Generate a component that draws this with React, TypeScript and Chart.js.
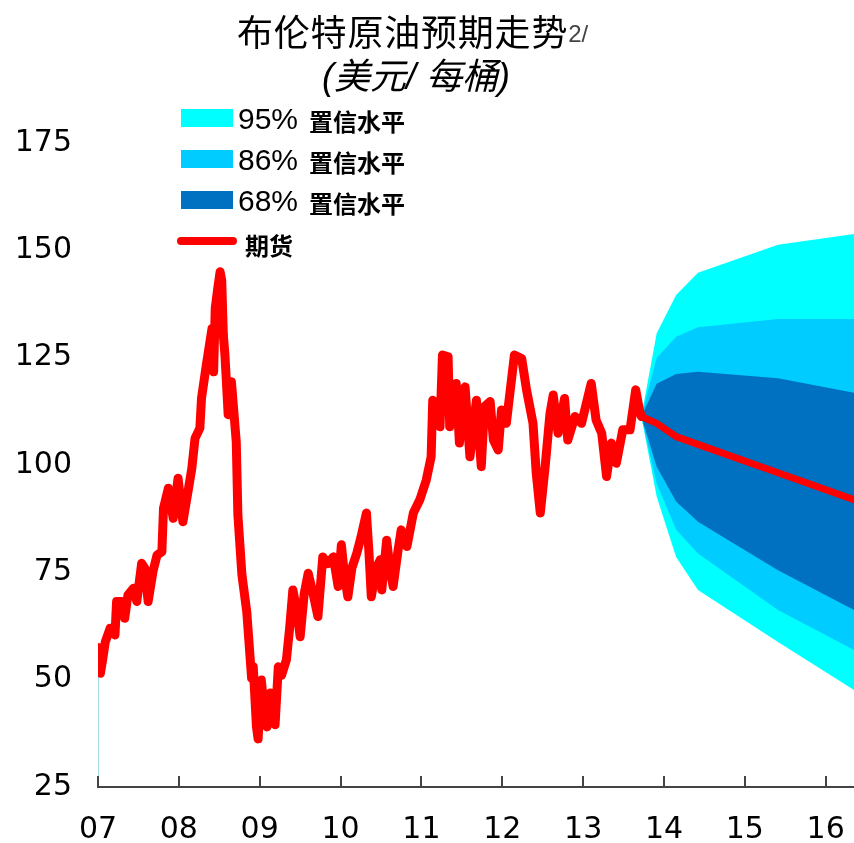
import React, { useEffect, useRef } from 'react';
import { Chart, registerables } from 'chart.js';

Chart.register(...registerables);

// Historical Brent prices (decimal year, USD/bbl)
const histYears = [
  2007.00, 2007.03, 2007.06, 2007.09, 2007.15, 2007.21, 2007.23, 2007.29, 2007.33, 2007.37,
  2007.44, 2007.48, 2007.54, 2007.58, 2007.62, 2007.68, 2007.73, 2007.79, 2007.81, 2007.87,
  2007.93, 2007.99, 2008.05, 2008.12, 2008.16, 2008.20, 2008.26, 2008.28, 2008.34, 2008.41,
  2008.43, 2008.45, 2008.48, 2008.51, 2008.53, 2008.55, 2008.57, 2008.61, 2008.65, 2008.71,
  2008.73, 2008.78, 2008.84, 2008.90, 2008.92, 2008.96, 2008.98,
  2009.02, 2009.05, 2009.09, 2009.13, 2009.19, 2009.23, 2009.27, 2009.33, 2009.37, 2009.41,
  2009.46, 2009.50, 2009.55, 2009.60, 2009.66, 2009.72, 2009.78, 2009.84, 2009.91, 2009.97,
  2010.01, 2010.05, 2010.09, 2010.14, 2010.20, 2010.25, 2010.32, 2010.35, 2010.38, 2010.44,
  2010.49, 2010.51, 2010.57, 2010.61, 2010.65, 2010.71, 2010.75, 2010.82, 2010.90, 2010.98,
  2011.06, 2011.12, 2011.14, 2011.21, 2011.23, 2011.26, 2011.33, 2011.35, 2011.43, 2011.47,
  2011.54, 2011.60, 2011.68, 2011.74, 2011.78, 2011.85, 2011.89, 2011.95, 2011.99, 2012.05,
  2012.15, 2012.24, 2012.30, 2012.38, 2012.42, 2012.47, 2012.53, 2012.59, 2012.63, 2012.69,
  2012.77, 2012.81, 2012.90, 2012.98, 2013.10, 2013.16, 2013.23, 2013.29, 2013.35, 2013.41,
  2013.49, 2013.58, 2013.65, 2013.70, 2013.72,
];
const histPrices = [
  57.5, 51.5, 55, 58.8, 62, 60.4, 68.2, 68.2, 64.3, 69.7,
  71.3, 68.2, 77.1, 75.9, 68.2, 75.2, 79, 79.8, 89.9, 94.6,
  87.6, 96.9, 86.8, 94.6, 99.2, 106.2, 108.6, 115.5, 123.3, 131.8,
  121.7, 136.5, 141, 145, 143, 130.3, 125.6, 111.7, 119.4, 105.4,
  88.4, 74.4, 65.8, 50.3, 53, 39, 36.2,
  49.9, 44, 39, 46.9, 39.5, 53, 51, 54.6, 62, 70.9,
  66, 60, 70, 74.8, 70, 64.7, 78.6, 77, 78.6, 71.7,
  81.4, 74, 69.3, 76, 79.4, 83, 88.8, 80, 69.3, 76,
  77.9, 70.9, 82.5, 76, 71.7, 80, 84.9, 81, 88.8, 91.9,
  96.5, 101.9, 115.1, 113.6, 108.9, 125.6, 125.2, 108.9, 119, 105.1,
  118.2, 101.9, 115.1, 99.6, 113.6, 114.8, 105.8, 103.5, 112.8, 109.7,
  125.6, 124.8, 117.5, 109.7, 98.1, 88.8, 99.6, 112, 116.3, 107.4,
  115.5, 105.8, 111.3, 109.7, 119, 110.5, 107.4, 97.3, 105.1, 100.4,
  108.2, 108.2, 117.5, 112.5, 111.3,
];

// Forecast fan (decimal year)
const fanYears = [2013.72, 2013.91, 2014.15, 2014.42, 2015.41, 2016.35];
const futures = [111.3, 109.7, 106.6, 104.8, 98.2, 91.9];
const upper68 = [111.3, 118.9, 121.2, 121.7, 120.2, 116.8];
const lower68 = [111.3, 99.6, 91.5, 86.8, 75.5, 66.2];
const upper86 = [111.3, 124.9, 129.9, 132.1, 134.0, 134.0];
const lower86 = [111.3, 95.7, 84.9, 79.4, 66.2, 56.9];
const upper95 = [111.3, 130.7, 139.6, 144.8, 151.3, 153.8];
const lower95 = [111.3, 92.6, 78.6, 70.9, 58.8, 47.6];

// Thin pale edge at the start of the series
const edgeYears = [2007.0, 2007.0];
const edgeValues = [25, 51];

const yearTicks = [2007, 2008, 2009, 2010, 2011, 2012, 2013, 2014, 2015, 2016];
const yearLabels = ['07', '08', '09', '10', '11', '12', '13', '14', '15', '16'];

const legendLevels = ['95%', '86%', '68%'];
const legendColors = ['#00FFFF', '#00CCFF', '#0070C0'];
const legendSuffix = '置信水平';
const futuresLabel = '期货';

const pts = (xs: number[], ys: number[]) => xs.map((x, i) => ({ x, y: ys[i] }));

const tickFont = { family: "'DejaVu Sans', 'Liberation Sans', Arial, sans-serif", size: 30 };

const innerTicks = {
  id: 'innerTicks',
  afterDraw(chart: any) {
    const x = chart.scales.x;
    const ctx = chart.ctx;
    const bottom = chart.chartArea.bottom;
    ctx.save();
    ctx.strokeStyle = '#444';
    ctx.lineWidth = 2;
    yearTicks.forEach((v) => {
      const px = Math.round(x.getPixelForValue(v));
      ctx.beginPath();
      ctx.moveTo(px, bottom);
      ctx.lineTo(px, bottom - 11);
      ctx.stroke();
    });
    ctx.restore();
  },
};

export default function App() {
  const ref = useRef<HTMLCanvasElement>(null);

  useEffect(() => {
    const band = (ys: number[], color: string, target: number | false, order: number) => ({
      data: pts(fanYears, ys),
      borderColor: 'transparent',
      borderWidth: 0,
      backgroundColor: color,
      fill: target === false ? false : target,
      pointRadius: 0,
      tension: 0,
      order,
    });
    const chart = new Chart(ref.current!, {
      type: 'line',
      data: {
        datasets: [
          {
            data: pts(histYears, histPrices),
            borderColor: '#FF0000',
            borderWidth: 9,
            pointRadius: 0,
            tension: 0,
            borderJoinStyle: 'round',
            borderCapStyle: 'round',
            fill: false,
            order: 0,
          } as any,
          {
            data: pts(fanYears, futures),
            borderColor: '#FF0000',
            borderWidth: 7,
            pointRadius: 0,
            tension: 0,
            borderJoinStyle: 'round',
            borderCapStyle: 'round',
            fill: false,
            order: 0,
          } as any,
          band(upper68, '#0070C0', 3, 1),
          band(lower68, '#0070C0', false, 1),
          band(upper86, '#00CCFF', 5, 2),
          band(lower86, '#00CCFF', false, 2),
          band(upper95, '#00FFFF', 7, 3),
          band(lower95, '#00FFFF', false, 3),
          {
            data: pts(edgeYears, edgeValues),
            borderColor: '#A6DCE8',
            borderWidth: 2,
            pointRadius: 0,
            fill: false,
            order: 4,
          } as any,
        ],
      },
      options: {
        responsive: false,
        animation: false,
        layout: { padding: { top: 143, left: 0, right: 0, bottom: 0 } },
        plugins: {
          legend: { display: false },
          tooltip: { enabled: false },
          title: { display: false },
        },
        scales: {
          x: {
            type: 'linear',
            min: 2007,
            max: 2016.35,
            afterBuildTicks: (s: any) => {
              s.ticks = yearTicks.map((v) => ({ value: v }));
            },
            afterFit: (s: any) => {
              s.height = 56;
              s.paddingLeft = 0;
              s.paddingRight = 0;
            },
            ticks: {
              callback: (v: any) => {
                const i = yearTicks.indexOf(Number(v));
                return i >= 0 ? yearLabels[i] : '';
              },
              font: tickFont,
              color: '#000',
              padding: 25,
              maxRotation: 0,
              autoSkip: false,
            },
            grid: { display: false, drawTicks: false },
            border: { display: true, color: '#444', width: 2 },
          },
          y: {
            min: 25,
            max: 175,
            afterFit: (s: any) => {
              s.width = 98;
            },
            ticks: { stepSize: 25, font: tickFont, color: '#000', padding: 26 },
            grid: { display: false, drawTicks: false },
            border: { display: false },
          },
        },
      } as any,
      plugins: [innerTicks],
    });
    return () => chart.destroy();
  }, []);

  const legendRowTops = [104, 145, 186];

  return (
    <div
      style={{
        position: 'absolute',
        left: 0,
        top: 0,
        width: 854,
        height: 843,
        overflow: 'hidden',
        background: '#fff',
        fontFamily: "'Liberation Sans', Arial, 'Noto Sans CJK SC', sans-serif",
      }}
    >
      <canvas ref={ref} width={854} height={843} style={{ position: 'absolute', left: 0, top: 0, width: 854, height: 843 }} />
      <div
        style={{
          position: 'absolute',
          left: 237,
          top: 12,
          fontFamily: "'Noto Sans CJK SC', sans-serif",
          fontSize: 36,
          lineHeight: '36px',
          letterSpacing: '0.8px',
          whiteSpace: 'nowrap',
          color: '#000',
        }}
      >
        布伦特原油预期走势
        <span
          style={{
            fontFamily: "'Liberation Sans', Arial, sans-serif",
            fontSize: 24,
            lineHeight: '24px',
            verticalAlign: 'top',
            position: 'relative',
            top: 10,
            marginLeft: 0,
            letterSpacing: 0,
            color: '#444',
          }}
        >
          2/
        </span>
      </div>
      <div
        style={{
          position: 'absolute',
          left: 322,
          top: 59,
          fontFamily: "'Liberation Sans', 'Noto Sans CJK SC', sans-serif",
          fontSize: 36,
          lineHeight: '36px',
          fontStyle: 'italic',
          whiteSpace: 'pre',
          color: '#000',
        }}
      >
        (美元/ 每桶)
      </div>
      {legendLevels.map((lvl, i) => (
        <React.Fragment key={lvl}>
          <div
            style={{
              position: 'absolute',
              left: 181,
              top: 109 + i * 41,
              width: 52,
              height: 18,
              background: legendColors[i],
            }}
          />
          <div
            style={{
              position: 'absolute',
              left: 238,
              top: legendRowTops[i],
              display: 'flex',
              alignItems: 'baseline',
              whiteSpace: 'nowrap',
              color: '#000',
            }}
          >
            <span style={{ fontFamily: "'Liberation Sans', Arial, sans-serif", fontSize: 30, lineHeight: '30px' }}>{lvl}</span>
            <span
              style={{
                fontFamily: "'Noto Sans CJK SC', sans-serif",
                fontWeight: 700,
                fontSize: 24,
                lineHeight: '24px',
                marginLeft: 11,
                position: 'relative',
                top: 2,
              }}
            >
              {legendSuffix}
            </span>
          </div>
        </React.Fragment>
      ))}
      <div
        style={{
          position: 'absolute',
          left: 177,
          top: 237,
          width: 60,
          height: 8,
          borderRadius: 4,
          background: '#FF0000',
        }}
      />
      <div
        style={{
          position: 'absolute',
          left: 245,
          top: 233,
          fontFamily: "'Noto Sans CJK SC', sans-serif",
          fontWeight: 700,
          fontSize: 24,
          lineHeight: '24px',
          color: '#000',
          whiteSpace: 'nowrap',
        }}
      >
        {futuresLabel}
      </div>
    </div>
  );
}
